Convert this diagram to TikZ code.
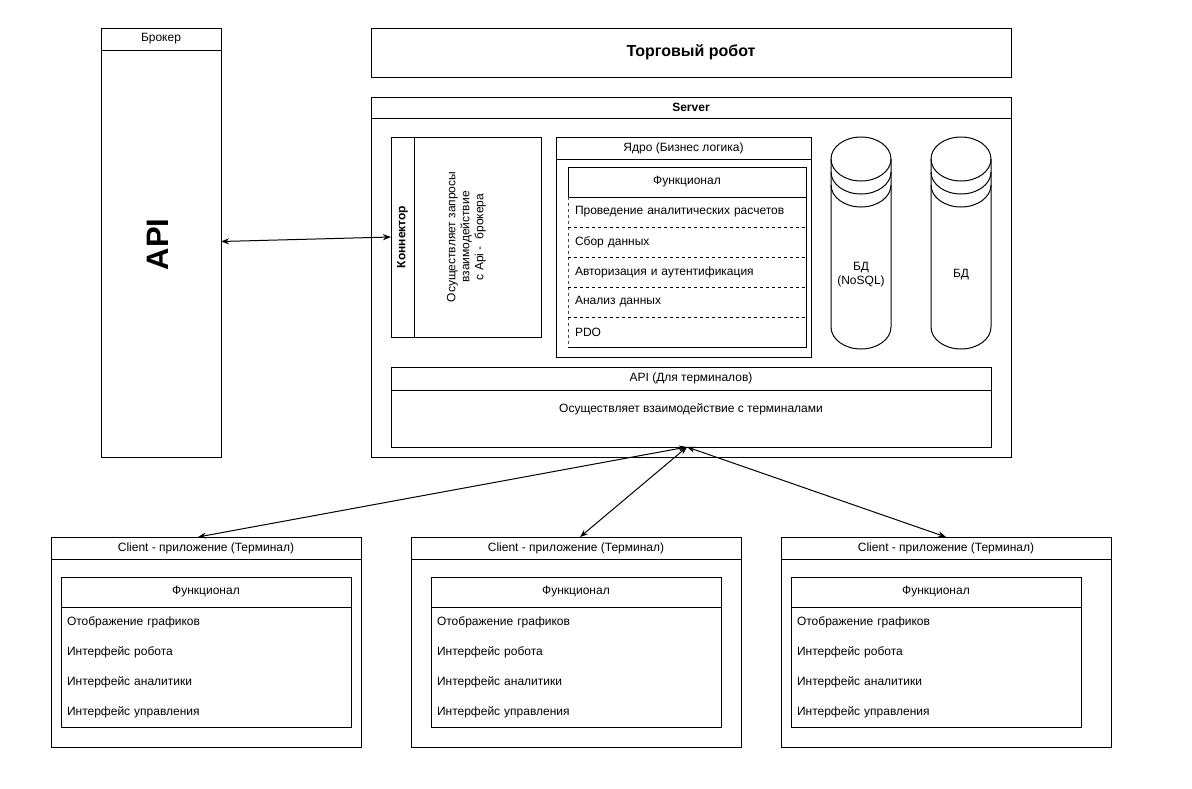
\documentclass[tikz,border=0pt]{standalone}
\usepackage{fontspec}
\setmainfont{Liberation Sans}
\usepackage{tikz}
\usetikzlibrary{arrows.meta, positioning, calc}
\newcommand{\fsmall}{\fontsize{12}{14}\selectfont}
\newcommand{\fbig}{\fontsize{16}{19}\selectfont}
\newcommand{\fhuge}{\fontsize{31}{36}\selectfont}
\tikzset{
  box/.style={rectangle, draw=black, line width=1pt, inner sep=0pt,
    outer sep=0pt, anchor=north west, font=\fsmall},
  hdrbox/.style={box, minimum height=22pt},
  item/.style={rectangle, inner xsep=6pt, inner ysep=0pt, outer sep=0pt,
    anchor=north west, minimum height=30pt, align=left, font=\fsmall},
  dbcyl/.style={rectangle, inner sep=0pt, outer sep=0pt, anchor=north west,
    minimum width=60pt, minimum height=212pt, font=\fsmall, align=center},
  arrow/.style={{Stealth[length=8pt,width=6pt]}-{Stealth[length=8pt,width=6pt]}, line width=1pt},
  sep/.style={line width=1pt, dash pattern=on 3pt off 3pt}
}

\begin{document}
\begin{tikzpicture}[x=1pt, y=-1pt]
  \useasboundingbox[fill=white] (0,0) rectangle (1192,788);

  % Broker
  \node[hdrbox, minimum width=120pt] (brokerhd) at (101,28) {Брокер};
  \node[box, minimum width=120pt, minimum height=407pt, below=0pt of brokerhd] (broker) {};
  \node[font=\fhuge\bfseries, rotate=90] (brokerapi) at ($(broker.center)+(-3,-9)$) {API};

  % Trading robot
  \node[box, minimum width=640pt, minimum height=49pt, font=\fbig\bfseries] (robot) at (371,28) {Торговый робот};

  % Server
  \node[hdrbox, minimum width=640pt, minimum height=21pt, font=\fsmall\bfseries] (serverhd) at (371,97) {Server};
  \node[box, minimum width=640pt, minimum height=339pt, below=0pt of serverhd] (server) {};

  % Connector
  \node[box, minimum width=23pt, minimum height=200pt] (connhd) at (391,137) {};
  \node[rotate=90, font=\fsmall\bfseries] (connlbl) at (connhd.center) {Коннектор};
  \node[box, minimum width=127pt, minimum height=200pt, right=0pt of connhd] (conn) {};
  \node[rotate=90, align=center, font=\fsmall] (conntxt) at ($(conn.center)+(-11,0)$) {Осуществляет запросы\\взаимодействие\\с Api - \ брокера};

  % Core
  \node[hdrbox, minimum width=255pt] (corehd) at (556,137) {Ядро (Бизнес логика)};
  \node[box, minimum width=255pt, minimum height=198pt, below=0pt of corehd] (core) {};
  \node[box, minimum width=238pt, minimum height=30pt] (corefn) at (568,167) {Функционал};
  \foreach \t [count=\k] in {Проведение аналитических расчетов, Сбор данных,
      Авторизация и аутентификация, Анализ данных, PDO}
    \node[item, inner xsep=7pt, text width=224pt] (core\k) at (568,{167+30*\k}) {\t};
  \draw[line width=1pt] (corefn.south east) -- (core5.south east) -- (core5.south west);
  \draw[sep, draw=black!70] (corefn.south west) -- (core5.south west);
  \foreach \k in {1,...,4}
    \draw[sep] (core\k.south west) -- (core\k.south east);

  % Databases
  \node[dbcyl, label={[yshift=-32pt, align=center, font=\fsmall]center:БД\\(NoSQL)}] (db1) at (831,137) {};
  \node[dbcyl, label={[yshift=-32pt, font=\fsmall]center:БД}] (db2) at (931,137) {};
  \foreach \d in {db1,db2} {
    \draw[line width=1pt] ($(\d.north west)+(0,22)$)
      arc[start angle=180, end angle=0, x radius=30pt, y radius=22pt]
      -- ($(\d.south east)+(0,-22)$)
      arc[start angle=0, end angle=-180, x radius=30pt, y radius=22pt] -- cycle;
    \foreach \r in {0,13,26}
      \draw[line width=1pt] ($(\d.north west)+(0,22+\r)$)
        arc[start angle=180, end angle=360, x radius=30pt, y radius=22pt];
  }

  % API for terminals
  \node[box, minimum width=600pt, minimum height=23pt] (apithd) at (391,367) {API (Для терминалов)};
  \node[box, minimum width=600pt, minimum height=57pt, below=0pt of apithd] (apit) {};
  \node[font=\fsmall] (apittxt) at ($(apit.center)+(0,-9)$) {Осуществляет взаимодействие с терминалами};

  % Clients
  \foreach \i/\x/\w/\ix in {1/51/310/61, 2/411/330/431, 3/781/330/791} {
    \node[hdrbox, minimum width=\w pt] (clienthd\i) at (\x,537) {Client - приложение (Терминал)};
    \node[box, minimum width=\w pt, minimum height=188pt, below=0pt of clienthd\i] (client\i) {};
    \node[box, minimum width=290pt, minimum height=30pt] (clientfn\i) at (\ix,577) {Функционал};
    \node[box, minimum width=290pt, minimum height=120pt, below=0pt of clientfn\i] (clientlist\i) {};
    \foreach \t [count=\k] in {Отображение графиков, Интерфейс робота,
        Интерфейс аналитики, Интерфейс управления}
      \node[item, text width=278pt] (cli\i-\k) at (\ix,{577+30*\k}) {\t};
  }

  \draw[arrow] ([yshift=12pt]broker.east) -- (connhd.west);
  \draw[arrow] ([xshift=-4pt]apit.south) -- ([xshift=-8pt]clienthd1.north);
  \draw[arrow] ([xshift=-4pt]apit.south) -- ([xshift=4pt]clienthd2.north);
  \draw[arrow] ([xshift=-4pt]apit.south) -- (clienthd3.north);
\end{tikzpicture}
\end{document}
